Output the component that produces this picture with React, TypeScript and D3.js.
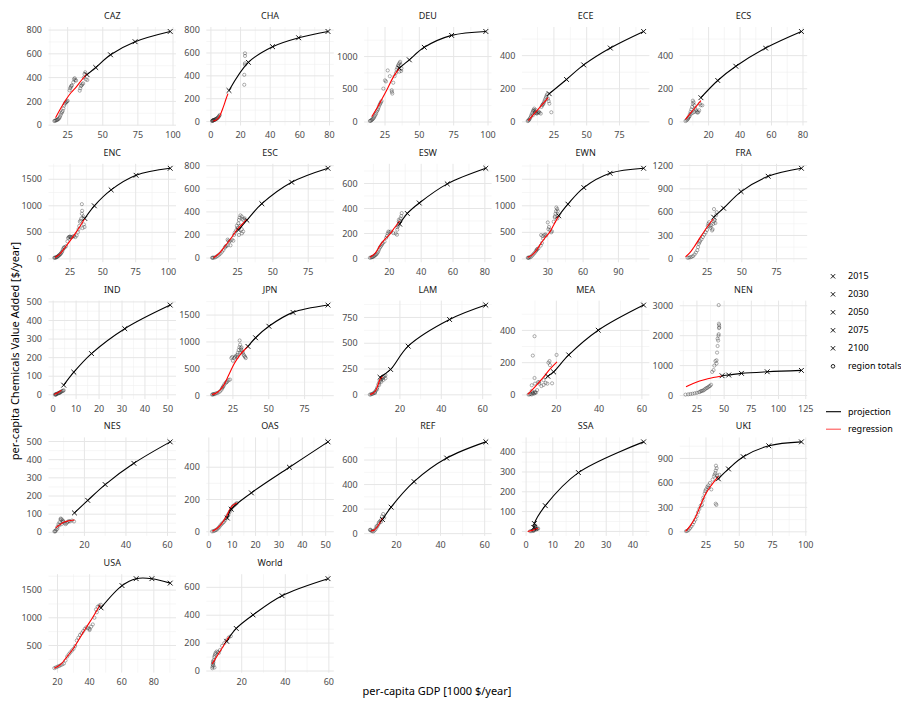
import React from 'react';
import * as d3 from 'd3';

type P = [number, number];

const YEARS = ['2015', '2030', '2050', '2075', '2100'];

// ---------- CAZ ----------
const CAZ_proj: P[] = [[38.8, 425], [45, 485], [55.5, 592], [73, 702], [98, 788]];
const CAZ_reg: P[] = [[16.4, 62], [20, 140], [24.1, 220], [27.5, 275], [31.2, 322], [35, 380], [38.8, 432]];
const CAZ_hist: P[] = [[15.5, 35], [16, 38], [16.5, 40], [17, 42], [17.5, 45], [18, 48], [18.5, 52], [19, 60], [19.5, 70], [20, 85], [20.5, 100], [21, 110], [21.5, 120], [22, 140], [22.5, 165], [23, 180], [23.5, 190], [24, 195], [24.5, 200], [25, 205], [26.4, 293], [26.8, 310], [27.2, 320], [27.6, 330], [28, 335], [29, 360], [29.5, 385], [30, 395], [30.5, 380], [31, 375], [33.6, 290], [34, 310], [34.5, 330], [35, 336], [35.5, 345], [36, 352], [36.5, 400], [37, 430], [37.5, 445], [38, 385], [39, 380]];
const CAZ_xt = [25, 50, 75, 100];
const CAZ_yt = [0, 200, 400, 600, 800];

// ---------- CHA ----------
const CHA_proj: P[] = [[12.2, 272], [25.3, 518], [41.6, 655], [59.2, 733], [79, 788]];
const CHA_reg: P[] = [[1.5, 5], [3, 10], [5, 30], [6.5, 65], [7.7, 104], [9, 150], [10, 191], [11.5, 245]];
const CHA_hist: P[] = [[0.8, 5], [1, 7], [1.2, 9], [1.4, 10], [1.6, 12], [1.8, 13], [2, 14], [2.3, 15], [2.6, 17], [3, 19], [3.3, 21], [3.6, 24], [4, 27], [4.4, 31], [4.8, 36], [5.2, 42], [5.6, 50], [6, 58], [22.5, 322], [22.5, 409], [23, 497], [23, 510], [23, 574], [23, 597]];
const CHA_xt = [0, 20, 40, 60, 80];
const CHA_yt = [0, 200, 400, 600, 800];

// ---------- DEU ----------
const DEU_proj: P[] = [[35.4, 823], [42.7, 950], [53.6, 1141], [73.5, 1323], [98.4, 1383]];
const DEU_reg: P[] = [[15.3, 80], [19, 205], [22.5, 340], [26.2, 485], [31, 686], [35.4, 823]];
const DEU_hist: P[] = [[14, 15], [14.5, 20], [15, 25], [15.5, 35], [16, 45], [16.5, 55], [17, 70], [17.5, 90], [18, 110], [18.5, 130], [19, 160], [19.5, 180], [20, 200], [20.5, 230], [21, 260], [21.5, 280], [22, 300], [22.5, 320], [23.8, 510], [25, 636], [25.7, 620], [27, 788], [28.5, 700], [29.9, 485], [30, 460], [30.3, 434], [31, 600], [32, 700], [33, 750], [33.5, 800], [34, 830], [34.5, 860], [35, 880], [35.5, 900], [36, 920], [36.5, 870], [37, 820], [36.8, 780], [35.4, 770]];
const DEU_xt = [25, 50, 75, 100];
const DEU_yt = [0, 500, 1000];

// ---------- ECE ----------
const ECE_proj: P[] = [[21.4, 170], [34.6, 256], [47.7, 344], [68, 446], [93.4, 546]];
const ECE_reg: P[] = [[5.5, 8], [10, 50], [15, 95], [20.7, 146]];
const ECE_hist: P[] = [[5, 5], [5.5, 8], [6, 12], [6.5, 18], [7, 25], [7.5, 35], [8, 45], [8.5, 55], [9, 65], [9.5, 72], [10, 68], [10.5, 60], [11, 55], [11.5, 52], [12, 50], [12.5, 55], [13, 58], [13.5, 62], [14, 55], [15, 50], [15.5, 90], [16, 100], [16.5, 105], [17, 110], [17.5, 120], [18, 130], [18.5, 140], [19, 150], [19.5, 160], [20, 168], [20.5, 140], [21, 125], [21.5, 110], [23, 58], [9, 40], [10, 80], [11, 72]];
const ECE_xt = [25, 50, 75];
const ECE_yt = [0, 200, 400];

// ---------- ECS ----------
const ECS_proj: P[] = [[15.1, 146], [25.8, 250], [37.3, 336], [56.2, 446], [79, 546]];
const ECS_reg: P[] = [[5.3, 15], [10, 70], [15.1, 128]];
const ECS_hist: P[] = [[5.3, 5], [6, 10], [6.5, 15], [7, 25], [7.5, 30], [8, 45], [8.5, 60], [9, 75], [9.5, 90], [10, 110], [10.5, 118], [11, 100], [11.5, 80], [12, 70], [12.5, 60], [13, 55], [13.5, 60], [14, 70], [14.4, 110], [15, 100], [16, 100], [8, 35], [9, 50], [10, 55], [11, 60], [7, 20], [10, 128]];
const ECS_xt = [20, 40, 60, 80];
const ECS_yt = [0, 200, 400];

// ---------- ENC ----------
const ENC_proj: P[] = [[36.2, 762], [43.5, 1000], [56.3, 1300], [75.3, 1575], [101.3, 1707]];
const ENC_reg: P[] = [[13.6, 28], [17, 85], [21, 210], [25, 340], [29, 480], [33, 630], [36.2, 762]];
const ENC_hist: P[] = [[13, 20], [13.5, 22], [14, 25], [14.5, 30], [15, 35], [15.5, 45], [16, 55], [16.5, 65], [17, 75], [17.5, 90], [18, 100], [18.5, 120], [19, 140], [19.5, 170], [20, 200], [20.5, 220], [21, 215], [22, 240], [23, 330], [23.5, 390], [24, 410], [24.5, 415], [25, 420], [25.5, 410], [26, 405], [27, 420], [28, 430], [29, 410], [30, 440], [31, 500], [31.5, 560], [32, 620], [32.5, 700], [33, 720], [33.5, 760], [34, 850], [34.2, 906], [34, 1031], [35, 800], [35.5, 650], [36, 600], [34.5, 580]];
const ENC_xt = [25, 50, 75, 100];
const ENC_yt = [0, 500, 1000, 1500];

// ---------- ESC ----------
const ESC_proj: P[] = [[25.7, 243], [31.6, 328], [42.2, 471], [63.3, 657], [89, 778]];
const ESC_reg: P[] = [[8, 3], [12, 40], [16, 100], [20, 165], [25, 250], [31.6, 335]];
const ESC_hist: P[] = [[7, 2], [7.5, 3], [8, 3], [9, 5], [10, 12], [11, 20], [12, 30], [13, 40], [14, 55], [15, 70], [16, 90], [16.5, 100], [17, 105], [18, 110], [18.5, 150], [19, 140], [20, 150], [21, 160], [22, 150], [22.5, 200], [23, 220], [24, 240], [24.5, 280], [25, 260], [25.5, 300], [26, 330], [26.5, 350], [27, 370], [28, 360], [28.5, 340], [29, 330], [30, 345], [27, 280], [28, 250], [28.1, 214], [29, 230], [26, 200], [20, 110], [18, 160]];
const ESC_xt = [25, 50, 75];
const ESC_yt = [0, 200, 400, 600, 800];

// ---------- ESW ----------
const ESW_proj: P[] = [[26.5, 275], [31.3, 360], [38.8, 444], [56.4, 597], [80.6, 722]];
const ESW_reg: P[] = [[7.8, 10], [11, 40], [14.2, 105], [17, 150], [20.4, 195], [23.5, 250], [26.5, 300]];
const ESW_hist: P[] = [[7.8, 5], [8.5, 8], [9, 10], [9.5, 12], [10, 15], [10.5, 20], [11, 25], [11.5, 30], [12, 35], [12.5, 45], [13, 55], [13.5, 70], [14, 85], [14.5, 95], [15, 105], [15.5, 115], [16, 125], [17, 135], [18, 165], [18.5, 180], [19, 200], [19.4, 215], [20, 210], [21, 215], [22.5, 203], [24, 200], [24.8, 190], [25, 230], [25.5, 260], [26, 280], [26.5, 300], [27, 320], [27.5, 340], [27.8, 363], [26, 310], [25, 250]];
const ESW_xt = [20, 40, 60, 80];
const ESW_yt = [0, 200, 400, 600];

// ---------- EWN ----------
const EWN_proj: P[] = [[39.2, 812], [47.1, 1031], [60.6, 1343], [82.9, 1613], [111.4, 1707]];
const EWN_reg: P[] = [[12.9, 25], [17, 80], [20, 150], [22.9, 250], [27, 380], [31.5, 500], [35, 640], [39.2, 810]];
const EWN_hist: P[] = [[13, 20], [13.5, 22], [14, 25], [15, 30], [16, 45], [17, 70], [18, 95], [19, 120], [20, 150], [20.5, 170], [21, 185], [22, 200], [24, 250], [24.3, 450], [25, 300], [25.5, 430], [26, 380], [27, 450], [28, 460], [28.5, 440], [30, 687], [30.5, 560], [31, 600], [32, 540], [32.9, 500], [33.5, 520], [35, 700], [36, 800], [36.5, 850], [37, 900], [37.2, 968], [38, 940], [38.5, 900], [39, 820], [38, 760], [36, 780]];
const EWN_xt = [30, 60, 90];
const EWN_yt = [0, 500, 1000, 1500];

// ---------- FRA ----------
const FRA_proj: P[] = [[29.8, 535], [36.9, 651], [49.5, 865], [69, 1062], [92.9, 1165]];
const FRA_reg: P[] = [[9.5, 25], [12.5, 75], [15.4, 145], [20.2, 278], [25, 406], [29.5, 515]];
const FRA_hist: P[] = [[11, 12], [12, 15], [13, 20], [14, 25], [15, 35], [16, 55], [17, 80], [18, 110], [18.5, 150], [19, 190], [19.5, 210], [20, 230], [21, 250], [22, 280], [23, 310], [24, 340], [25, 371], [25.5, 420], [26, 450], [26.5, 471], [27, 420], [28, 430], [28.6, 364], [29, 380], [29.5, 450], [30, 480], [30.5, 500], [31, 460], [31.5, 560], [30, 640], [32, 600], [27.5, 400]];
const FRA_xt = [25, 50, 75];
const FRA_yt = [0, 300, 600, 900, 1200];

// ---------- IND ----------
const IND_proj: P[] = [[4.6, 52], [9, 122], [16.7, 222], [31.2, 356], [51, 483]];
const IND_reg: P[] = [[0.5, 2], [1.5, 8], [2.5, 15], [3.6, 24]];
const IND_hist: P[] = [[0.8, 1], [1, 2], [1.2, 1], [1.3, 3], [1.6, 5], [2, 7], [2.3, 9], [2.6, 11], [2.8, 10], [3, 13], [3.3, 15], [3.6, 18], [4, 20], [4.3, 22], [4.6, 24]];
const IND_xt = [0, 10, 20, 30, 40, 50];
const IND_yt = [0, 100, 200, 300, 400, 500];

// ---------- JPN ----------
const JPN_proj: P[] = [[35.5, 917], [40.8, 1078], [50.1, 1292], [66.9, 1550], [91.3, 1686]];
const JPN_reg: P[] = [[10.5, 20], [14, 60], [18, 170], [22, 380], [26, 600], [30, 760], [35.5, 920]];
const JPN_hist: P[] = [[10.5, 20], [11, 25], [11.5, 28], [12, 30], [13, 40], [14, 50], [15, 60], [16, 80], [17, 110], [17.5, 140], [18, 160], [18.5, 180], [19, 210], [20, 240], [20.5, 250], [21, 265], [22, 290], [23, 300], [23.9, 700], [24.5, 720], [25, 650], [26, 700], [26.5, 720], [27, 740], [28, 760], [28.5, 800], [29, 850], [29.5, 900], [29.7, 1028], [30, 950], [30.5, 880], [31, 850], [31.5, 820], [32, 800], [32.5, 760], [33, 740], [33.5, 720], [34, 700], [31, 900], [30, 800], [28, 720]];
const JPN_xt = [25, 50, 75];
const JPN_yt = [0, 500, 1000, 1500];

// ---------- LAM ----------
const LAM_proj: P[] = [[10.4, 170], [15.5, 246], [24, 472], [44, 730], [61.5, 870]];
const LAM_reg: P[] = [[5.6, 3], [7, 15], [8.5, 50], [9.5, 100], [10.4, 150], [11.5, 175]];
const LAM_hist: P[] = [[5.5, 2], [6, 4], [6.5, 8], [7, 12], [7.5, 20], [8, 30], [8.5, 45], [9, 70], [9.5, 100], [10, 120], [10.5, 135], [11, 150], [11.5, 160], [12, 170], [12.5, 180], [13, 190], [10, 95], [11, 125], [9, 55], [8, 18], [12, 145], [13, 160]];
const LAM_xt = [20, 40, 60];
const LAM_yt = [0, 250, 500, 750];

// ---------- MEA ----------
const MEA_proj: P[] = [[16, 116], [18.7, 143], [25.8, 248], [39.6, 401], [60.8, 557]];
const MEA_reg: P[] = [[6.6, 3], [10, 50], [14, 110], [17, 160], [20.3, 205]];
const MEA_hist: P[] = [[7, 2], [7.5, 4], [8, 6], [8.5, 3], [9, 10], [9.5, 8], [10, 12], [10.5, 15], [8.5, 25], [9, 244], [9.8, 364], [9.8, 105], [8.5, 60], [10, 70], [11.4, 79], [12, 80], [13, 55], [14, 62], [15, 75], [15.8, 70], [16.3, 200], [16.8, 210], [17, 185], [18, 72], [20.1, 248], [15, 110], [14, 92], [12, 70], [11, 30], [10, 18], [9, 15]];
const MEA_xt = [20, 40, 60];
const MEA_yt = [0, 200, 400];

// ---------- NEN ----------
const NEN_proj: P[] = [[48.1, 662], [54.2, 685], [65.9, 741], [89.6, 794], [121, 840]];
const NEN_reg: P[] = [[15, 290], [20, 380], [25, 450], [30, 510], [35, 560], [40, 600], [48, 655]];
const NEN_hist: P[] = [[14.5, 30], [17, 40], [19, 50], [21, 60], [23, 75], [25, 90], [27, 110], [28, 130], [29, 150], [30, 160], [31, 170], [32, 200], [33, 230], [34, 250], [35, 270], [36, 300], [37, 320], [38, 360], [39, 790], [40.3, 850], [41, 1000], [42, 1150], [43, 1180], [43, 1070], [43.5, 1435], [44, 1655], [44.5, 1837], [44.8, 2000], [45, 2050], [45.3, 2250], [45.5, 2280], [45.4, 2350], [45.2, 2400], [45, 3023], [44, 1900]];
const NEN_xt = [25, 50, 75, 100, 125];
const NEN_yt = [0, 1000, 2000, 3000];

// ---------- NES ----------
const NES_proj: P[] = [[15.2, 107], [21.6, 176], [30, 263], [43.8, 380], [61.3, 498]];
const NES_reg: P[] = [[6.2, 25], [8, 40], [10, 55], [12, 62], [15.2, 68]];
const NES_hist: P[] = [[5.5, 5], [6, 8], [6.5, 15], [7, 30], [7.5, 45], [8, 55], [8.5, 70], [8.6, 76], [9, 72], [9.7, 58], [10, 60], [10.5, 50], [11, 45], [11.5, 52], [12, 58], [12.5, 62], [13, 60], [14, 65], [15, 60], [8, 40], [9, 45], [7, 20], [6, 5], [9.5, 65]];
const NES_xt = [20, 40, 60];
const NES_yt = [0, 100, 200, 300, 400, 500];

// ---------- OAS ----------
const OAS_proj: P[] = [[7.9, 85], [9.6, 140], [18.2, 241], [34.5, 400], [51, 557]];
const OAS_reg: P[] = [[1.5, 3], [3.5, 20], [5.5, 50], [7.5, 95], [10, 160], [12, 178]];
const OAS_hist: P[] = [[1.4, 2], [2, 4], [2.5, 7], [3, 10], [3.5, 15], [4, 22], [4.5, 30], [5, 40], [5.5, 48], [6, 55], [6.5, 62], [7, 72], [7.5, 85], [8, 100], [8.5, 112], [9, 125], [9.5, 140], [10, 152], [10.5, 160], [11, 165], [11.5, 172], [12, 178]];
const OAS_xt = [0, 10, 20, 30, 40, 50];
const OAS_yt = [0, 200, 400];

// ---------- REF ----------
const REF_proj: P[] = [[13.7, 115], [17.6, 216], [28, 424], [42.8, 616], [60.5, 748]];
const REF_reg: P[] = [[8.4, 22], [10, 30], [11.5, 60], [13.7, 125]];
const REF_hist: P[] = [[8, 30], [8.3, 32], [8.5, 25], [9, 20], [9.5, 18], [10, 25], [10.5, 35], [11, 50], [11.5, 65], [12, 80], [12.5, 100], [13, 110], [13.5, 140], [14, 160], [14.5, 130], [12, 90], [11, 60], [13, 95]];
const REF_xt = [20, 40, 60];
const REF_yt = [0, 200, 400, 600];

// ---------- SSA ----------
const SSA_proj: P[] = [[2.9, 20], [3.1, 40], [7.2, 130], [19.6, 297], [44, 452]];
const SSA_reg: P[] = [[0.6, 0], [2, 4], [3, 9], [4.4, 16]];
const SSA_hist: P[] = [[1.5, 1], [2, 2], [2.5, 4], [2.8, 6], [2.9, 3], [3, 8], [3.2, 12], [3.3, 18], [3.4, 25], [3.5, 30], [3.7, 14], [3.8, 10], [4, 12], [4.2, 15], [4.5, 14]];
const SSA_xt = [0, 10, 20, 30, 40];
const SSA_yt = [0, 100, 200, 300, 400];

// ---------- UKI ----------
const UKI_proj: P[] = [[34.3, 650], [41.9, 771], [53, 921], [72.2, 1055], [96.7, 1103]];
const UKI_reg: P[] = [[9.6, 5], [13, 70], [17.2, 182], [21, 330], [24.8, 467], [29, 570], [34.3, 680]];
const UKI_hist: P[] = [[10, 8], [11, 12], [12, 25], [13, 45], [14, 65], [15, 90], [16, 120], [17, 150], [18, 190], [19, 240], [20, 280], [21, 320], [22, 330], [22.5, 380], [23, 420], [24, 470], [24.5, 500], [25, 520], [26, 550], [26.7, 568], [27, 540], [28, 600], [29, 520], [30, 640], [31, 680], [31.5, 700], [32, 720], [32.3, 750], [32.5, 811], [33, 780], [32.3, 345], [32.8, 330], [33.5, 690], [34, 660], [35, 700]];
const UKI_xt = [25, 50, 75, 100];
const UKI_yt = [0, 300, 600, 900];

// ---------- USA ----------
const USA_proj: P[] = [[47.1, 1180], [60.2, 1581], [69, 1706], [78.8, 1706], [90.2, 1626]];
const USA_reg: P[] = [[18, 90], [22, 160], [26, 300], [30, 450], [34, 640], [38, 830], [42, 1010], [46.5, 1230]];
const USA_hist: P[] = [[18, 92], [19, 105], [20, 118], [21, 130], [22, 145], [23, 160], [24, 175], [25, 230], [26, 300], [27, 340], [28, 375], [29, 410], [30, 440], [31, 490], [32, 590], [33, 640], [34, 690], [35, 720], [36, 760], [37, 800], [38, 830], [39, 810], [40, 780], [41, 840], [42, 880], [43, 1000], [44, 1150], [44.5, 1100], [45, 1200], [46, 1220], [47, 1235], [40, 800]];
const USA_xt = [20, 40, 60, 80];
const USA_yt = [0, 500, 1000, 1500];

// ---------- World ----------
const World_proj: P[] = [[13.1, 213], [17.5, 305], [25.2, 402], [38.5, 540], [59.6, 662]];
const World_reg: P[] = [[6.4, 50], [8, 90], [10, 140], [12, 190], [14.1, 245]];
const World_hist: P[] = [[6.5, 20], [6.6, 30], [6.7, 45], [6.8, 55], [7, 62], [7.2, 80], [7.4, 100], [7.6, 110], [7.8, 120], [8, 130], [8.5, 140], [9, 135], [9.5, 130], [10, 150], [11, 180], [12, 200], [13, 220], [14, 240], [15, 250], [7, 40], [6.8, 70], [7.5, 25]];
const World_xt = [20, 40, 60];
const World_yt = [0, 200, 400, 600];

const PANELS = [
  { name: 'CAZ', proj: CAZ_proj, reg: CAZ_reg, hist: CAZ_hist, xt: CAZ_xt, yt: CAZ_yt },
  { name: 'CHA', proj: CHA_proj, reg: CHA_reg, hist: CHA_hist, xt: CHA_xt, yt: CHA_yt },
  { name: 'DEU', proj: DEU_proj, reg: DEU_reg, hist: DEU_hist, xt: DEU_xt, yt: DEU_yt },
  { name: 'ECE', proj: ECE_proj, reg: ECE_reg, hist: ECE_hist, xt: ECE_xt, yt: ECE_yt },
  { name: 'ECS', proj: ECS_proj, reg: ECS_reg, hist: ECS_hist, xt: ECS_xt, yt: ECS_yt },
  { name: 'ENC', proj: ENC_proj, reg: ENC_reg, hist: ENC_hist, xt: ENC_xt, yt: ENC_yt },
  { name: 'ESC', proj: ESC_proj, reg: ESC_reg, hist: ESC_hist, xt: ESC_xt, yt: ESC_yt },
  { name: 'ESW', proj: ESW_proj, reg: ESW_reg, hist: ESW_hist, xt: ESW_xt, yt: ESW_yt },
  { name: 'EWN', proj: EWN_proj, reg: EWN_reg, hist: EWN_hist, xt: EWN_xt, yt: EWN_yt },
  { name: 'FRA', proj: FRA_proj, reg: FRA_reg, hist: FRA_hist, xt: FRA_xt, yt: FRA_yt },
  { name: 'IND', proj: IND_proj, reg: IND_reg, hist: IND_hist, xt: IND_xt, yt: IND_yt },
  { name: 'JPN', proj: JPN_proj, reg: JPN_reg, hist: JPN_hist, xt: JPN_xt, yt: JPN_yt },
  { name: 'LAM', proj: LAM_proj, reg: LAM_reg, hist: LAM_hist, xt: LAM_xt, yt: LAM_yt },
  { name: 'MEA', proj: MEA_proj, reg: MEA_reg, hist: MEA_hist, xt: MEA_xt, yt: MEA_yt },
  { name: 'NEN', proj: NEN_proj, reg: NEN_reg, hist: NEN_hist, xt: NEN_xt, yt: NEN_yt },
  { name: 'NES', proj: NES_proj, reg: NES_reg, hist: NES_hist, xt: NES_xt, yt: NES_yt },
  { name: 'OAS', proj: OAS_proj, reg: OAS_reg, hist: OAS_hist, xt: OAS_xt, yt: OAS_yt },
  { name: 'REF', proj: REF_proj, reg: REF_reg, hist: REF_hist, xt: REF_xt, yt: REF_yt },
  { name: 'SSA', proj: SSA_proj, reg: SSA_reg, hist: SSA_hist, xt: SSA_xt, yt: SSA_yt },
  { name: 'UKI', proj: UKI_proj, reg: UKI_reg, hist: UKI_hist, xt: UKI_xt, yt: UKI_yt },
  { name: 'USA', proj: USA_proj, reg: USA_reg, hist: USA_hist, xt: USA_xt, yt: USA_yt },
  { name: 'World', proj: World_proj, reg: World_reg, hist: World_hist, xt: World_xt, yt: World_yt },
];

const W = 901;
const H = 701;
const NCOL = 5;
const PL0 = 48.5;
const CSTEP = 157.8;
const PW = 127.5;
const PT0 = 27;
const RSTEP = 136.8;
const PH = 98.5;
const FONT = '"Noto Sans", "Open Sans", sans-serif';

const minorOf = (t: number[], dom: number[]) => {
  const s = t[1] - t[0];
  const out: number[] = [];
  for (let i = -1; i < t.length; i++) {
    const v = t[0] + s * (i + 0.5);
    if (v >= dom[0] && v <= dom[1]) out.push(v);
  }
  return out;
};

const Cross = ({ cx, cy, s = 2.4 }: { cx: number; cy: number; s?: number }) => (
  <path d={`M${cx - s},${cy - s}L${cx + s},${cy + s}M${cx - s},${cy + s}L${cx + s},${cy - s}`} stroke="#000" strokeWidth={0.9} fill="none" />
);

function Panel({ d, idx }: { d: (typeof PANELS)[number]; idx: number }) {
  const col = idx % NCOL;
  const row = Math.floor(idx / NCOL);
  const left = PL0 + col * CSTEP;
  const top = PT0 + row * RSTEP;
  const all = [...d.proj, ...d.reg, ...d.hist];
  const [x0, x1] = d3.extent(all, (q) => q[0]) as [number, number];
  const [y0, y1] = d3.extent(all, (q) => q[1]) as [number, number];
  const px = (x1 - x0) * 0.05;
  const py = (y1 - y0) * 0.05;
  const x = d3.scaleLinear().domain([x0 - px, x1 + px]).range([left, left + PW]);
  const y = d3.scaleLinear().domain([y0 - py, y1 + py]).range([top + PH, top]);
  const xd = x.domain();
  const yd = y.domain();
  const xt = d.xt.filter((v) => v >= xd[0] && v <= xd[1]);
  const yt = d.yt.filter((v) => v >= yd[0] && v <= yd[1]);
  const xm = minorOf(d.xt, xd);
  const ym = minorOf(d.yt, yd);
  const line = d3
    .line<P>()
    .x((q) => x(q[0]))
    .y((q) => y(q[1]))
    .curve(d3.curveCatmullRom.alpha(0.5));
  return (
    <g>
      {xm.map((v) => (
        <line key={'xm' + v} x1={x(v)} x2={x(v)} y1={top} y2={top + PH} stroke="#f0f0f0" strokeWidth={0.6} />
      ))}
      {ym.map((v) => (
        <line key={'ym' + v} x1={left} x2={left + PW} y1={y(v)} y2={y(v)} stroke="#f0f0f0" strokeWidth={0.6} />
      ))}
      {xt.map((v) => (
        <line key={'xM' + v} x1={x(v)} x2={x(v)} y1={top} y2={top + PH} stroke="#e6e6e6" strokeWidth={1} />
      ))}
      {yt.map((v) => (
        <line key={'yM' + v} x1={left} x2={left + PW} y1={y(v)} y2={y(v)} stroke="#e6e6e6" strokeWidth={1} />
      ))}
      {xt.map((v) => (
        <text key={'xl' + v} x={x(v)} y={top + PH + 12.5} textAnchor="middle" fontSize={9} fill="#4d4d4d" fontFamily={FONT}>
          {v}
        </text>
      ))}
      {yt.map((v) => (
        <text key={'yl' + v} x={left - 6.5} y={y(v)} dy="0.35em" textAnchor="end" fontSize={9} fill="#4d4d4d" fontFamily={FONT}>
          {v}
        </text>
      ))}
      <text x={left + PW / 2} y={top - 8} textAnchor="middle" fontSize={9} fill="#1a1a1a" fontFamily={FONT}>
        {d.name}
      </text>
      {d.hist.map((q, i) => (
        <circle key={'h' + i} cx={x(q[0])} cy={y(q[1])} r={1.6} fill="none" stroke="#222" strokeOpacity={0.6} strokeWidth={0.6} />
      ))}
      <path d={line(d.proj) || ''} fill="none" stroke="#000" strokeWidth={1.1} />
      <path d={line(d.reg) || ''} fill="none" stroke="#ff0000" strokeWidth={1.1} />
      {d.proj.map((q, i) => (
        <Cross key={'p' + YEARS[i]} cx={x(q[0])} cy={y(q[1])} />
      ))}
    </g>
  );
}

export default function App() {
  const lx = 833;
  const ly0 = 276.3;
  const lstep = 18;
  return (
    <svg width={W} height={H} style={{ position: 'absolute', left: 0, top: 0, background: '#fff' }} fontFamily={FONT}>
      <rect x={0} y={0} width={W} height={H} fill="#fff" />
      {PANELS.map((d, i) => (
        <Panel key={d.name} d={d} idx={i} />
      ))}
      <text x={437} y={695} textAnchor="middle" fontSize={11} fill="#000" fontFamily={FONT}>
        per-capita GDP [1000 $/year]
      </text>
      <text transform={`translate(19,351) rotate(-90)`} textAnchor="middle" fontSize={11} fill="#000" fontFamily={FONT}>
        per-capita Chemicals Value Added [$/year]
      </text>
      {YEARS.map((yr, i) => (
        <g key={yr}>
          <Cross cx={lx} cy={ly0 + i * lstep} s={2.2} />
          <text x={848} y={ly0 + i * lstep} dy="0.35em" fontSize={9} fill="#000" fontFamily={FONT}>
            {yr}
          </text>
        </g>
      ))}
      <circle cx={lx} cy={ly0 + 5 * lstep} r={1.8} fill="none" stroke="#222" strokeWidth={1} />
      <text x={848} y={ly0 + 5 * lstep} dy="0.35em" fontSize={9} fill="#000" fontFamily={FONT}>
        region totals
      </text>
      <line x1={826} x2={841} y1={411.7} y2={411.7} stroke="#000" strokeWidth={1.1} />
      <text x={848} y={411.7} dy="0.35em" fontSize={9} fill="#000" fontFamily={FONT}>
        projection
      </text>
      <line x1={826} x2={841} y1={429.2} y2={429.2} stroke="#ff5555" strokeWidth={1.1} />
      <text x={848} y={429.2} dy="0.35em" fontSize={9} fill="#000" fontFamily={FONT}>
        regression
      </text>
    </svg>
  );
}
